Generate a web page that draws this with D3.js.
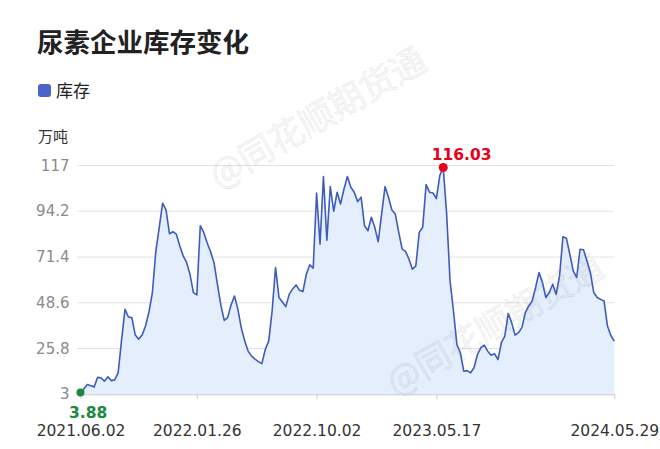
<!DOCTYPE html>
<html><head><meta charset="utf-8">
<script src="https://cdn.jsdelivr.net/npm/d3@7/dist/d3.min.js"></script>
<style>
html,body{margin:0;padding:0;background:#fff;}
svg{display:block;}
</style></head>
<body>
<svg id="c" width="660" height="449"></svg>
<script>
const title = "尿素企业库存变化";
const seriesName = "库存";
const unitLabel = "万吨";
const watermark = "@同花顺期货通";
const yTicks = [3, 25.8, 48.6, 71.4, 94.2, 117];
const xTickIndex = [0, 34, 69, 104, 156];
const xTickLabels = ["2021.06.02", "2022.01.26", "2022.10.02", "2023.05.17", "2024.05.29"];
const values = [
 3.88,5.8,7.85,7.3,6.7,11.5,11.2,9.5,11.7,9.8,
 10.2,13.7,30,45.3,41.5,41.2,32.5,30.5,32.5,37,
 44,53.5,74,86,98.2,94.8,83,84,82.8,77,
 72,68.7,62.8,53.7,52.5,87,83.7,78.5,74,68.7,
 58,47.5,39.8,41.2,47.5,52,45.3,36,29.5,24.5,
 22,20.5,19.3,18.3,25.3,29.5,44.5,66.2,51.2,49,
 46.7,52.8,55.5,57.5,54.8,54.2,62.8,67.5,65.8,103.3,
 77.8,111.5,79.8,106.5,94.2,103.7,97.8,105.3,111.5,106.2,
 103.7,99,101.2,87,84.5,91.2,86.2,79,92.8,106.5,
 101.2,94.8,92.8,83.7,75.3,74.2,70.3,65.3,67,83.7,
 86.2,107.5,103.7,103.3,100.5,112,116.03,93,59.5,44.5,
 27.8,23.7,14.5,14.8,13.7,16.2,22.8,26.2,27.5,24.5,
 22.5,23.2,20.3,28.7,32,43.3,38.7,32.5,33.7,36.2,
 43.7,47,49.5,56.2,63.7,58.7,51.2,53.7,57.8,52.8,
 62,81.5,80.8,72.8,64.5,61.2,75.3,75,69.5,63.7,
 53.7,51.2,50.3,49.5,37,32.3,29.5
];

const svg = d3.select("#c");
const FONT = "'DejaVu Sans', sans-serif";
const CJK = "'Noto Sans CJK SC', 'Noto Sans', sans-serif";
const lineColor = "#3d5cbd";

const x = d3.scaleLinear().domain([0, values.length - 1]).range([80.5, 614.3]);
const y = d3.scaleLinear().domain([3, 117]).range([394.3, 165.5]);

// title
svg.append("text").attr("x", 37).attr("y", 52)
  .attr("font-family", CJK).attr("font-weight", "bold").attr("font-size", 26.5)
  .attr("fill", "#222").text(title);

// legend
svg.append("rect").attr("x", 38).attr("y", 84).attr("width", 13).attr("height", 13)
  .attr("rx", 3).attr("fill", "#4a64c8");
svg.append("text").attr("x", 56).attr("y", 97)
  .attr("font-family", CJK).attr("font-size", 17).attr("fill", "#222").text(seriesName);

// unit
svg.append("text").attr("x", 38).attr("y", 142)
  .attr("font-family", CJK).attr("font-size", 15).attr("fill", "#333").text(unitLabel);

// grid
svg.append("g").selectAll("line").data(yTicks.slice(1)).join("line")
  .attr("x1", 77).attr("x2", 614.3)
  .attr("y1", d => y(d)).attr("y2", d => y(d))
  .attr("stroke", "#e3e3e3").attr("stroke-width", 1);

// y labels
svg.append("g").selectAll("text").data(yTicks).join("text")
  .attr("x", 69.5).attr("y", d => y(d))
  .attr("text-anchor", "end").attr("dominant-baseline", "central")
  .attr("font-family", FONT).attr("font-size", 15).attr("fill", "#8a8a8a")
  .text(d => d);

// area
const area = d3.area().x((d, i) => x(i)).y0(y(3)).y1(d => y(d));
svg.append("path").datum(values).attr("d", area).attr("fill", "#e5eefc");

// watermarks (over the area)
[[316, 115], [493, 322]].forEach(([cx, cy]) => {
  svg.append("text").attr("x", cx).attr("y", cy)
    .attr("transform", `rotate(-30 ${cx} ${cy})`)
    .attr("text-anchor", "middle").attr("dominant-baseline", "central")
    .attr("font-family", CJK).attr("font-size", 35)
    .attr("fill", "rgba(0,0,0,0.045)").attr("stroke", "rgba(0,0,0,0.09)").attr("stroke-width", 0.8)
    .text(watermark);
});

// x axis
const xAxis = d3.axisBottom(x).tickValues(xTickIndex)
  .tickFormat((d, i) => xTickLabels[i]).tickSize(5).tickSizeOuter(0);
const gx = svg.append("g").attr("transform", `translate(0,${y(3)})`).call(xAxis);
gx.select(".domain").attr("stroke", "#c8c8c8");
gx.selectAll(".tick line").attr("stroke", "#c8c8c8");
gx.selectAll(".tick text").attr("font-family", FONT).attr("font-size", 15.5)
  .attr("fill", "#333").attr("dy", 0).attr("y", 42);

// line
const line = d3.line().x((d, i) => x(i)).y(d => y(d));
svg.append("path").datum(values).attr("d", line)
  .attr("fill", "none").attr("stroke", lineColor).attr("stroke-width", 1.6)
  .attr("stroke-linejoin", "round");

// min / max markers
const iMin = d3.minIndex(values), iMax = d3.maxIndex(values);
svg.append("circle").attr("cx", x(iMin)).attr("cy", y(values[iMin])).attr("r", 4).attr("fill", "#1a8a3c");
svg.append("text").attr("x", x(iMin) - 11.5).attr("y", y(values[iMin]) + 25)
  .attr("font-family", FONT).attr("font-weight", "bold").attr("font-size", 15.5)
  .attr("fill", "#1a8a3c").text(values[iMin].toFixed(2));
svg.append("circle").attr("cx", x(iMax)).attr("cy", y(values[iMax])).attr("r", 4.5).attr("fill", "#e8001c");
svg.append("text").attr("x", x(iMax) - 11.5).attr("y", y(values[iMax]) - 7)
  .attr("font-family", FONT).attr("font-weight", "bold").attr("font-size", 15.5)
  .attr("fill", "#e8001c").text(values[iMax].toFixed(2));
</script>
</body></html>
